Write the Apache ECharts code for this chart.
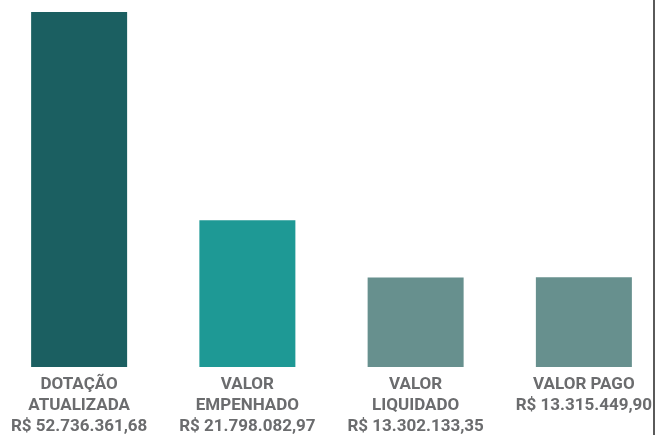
<!DOCTYPE html>
<html>
<head>
<meta charset="utf-8">
<script src="https://cdn.jsdelivr.net/npm/echarts@6/dist/echarts.min.js"></script>
<style>html,body{margin:0;padding:0;background:#fff;}#c{width:656px;height:435px;}</style>
</head>
<body>
<div id="c"></div>
<script>
var categories = ['DOTAÇÃO\nATUALIZADA', 'VALOR\nEMPENHADO', 'VALOR\nLIQUIDADO', 'VALOR PAGO'];
var values = [52736361.68, 21798082.97, 13302133.35, 13315449.90];
var valueLabels = ['R$ 52.736.361,68', 'R$ 21.798.082,97', 'R$ 13.302.133,35', 'R$ 13.315.449,90'];
var barColors = ['#1b5f61', '#1e9995', '#67908e', '#67908e'];

var chart = echarts.init(document.getElementById('c'), null, {renderer: 'canvas'});
chart.setOption({
  animation: false,
  grid: {left: -5, width: 673, top: 12, bottom: 68, containLabel: false, outerBoundsMode: 'none'},
  xAxis: {
    type: 'category',
    data: categories,
    axisLine: {show: false},
    axisTick: {show: false},
    axisLabel: {
      interval: 0,
      margin: 7,
      color: '#6b6c6e',
      fontFamily: 'Roboto',
      fontWeight: 'bold',
      fontSize: 17,
      lineHeight: 21,
      hideOverlap: false,
      formatter: function (v, i) { return v + '\n' + valueLabels[i]; }
    }
  },
  yAxis: {
    type: 'value',
    min: 0,
    max: values[0],
    show: false,
    splitLine: {show: false}
  },
  series: [{
    type: 'bar',
    barWidth: 96,
    data: values.map(function (v, i) { return {value: v, itemStyle: {color: barColors[i]}}; })
  }],
  graphic: [{
    type: 'rect',
    shape: {x: 653, y: 0, width: 2, height: 435},
    style: {fill: '#5a5a5a'}
  }]
});
</script>
</body>
</html>
